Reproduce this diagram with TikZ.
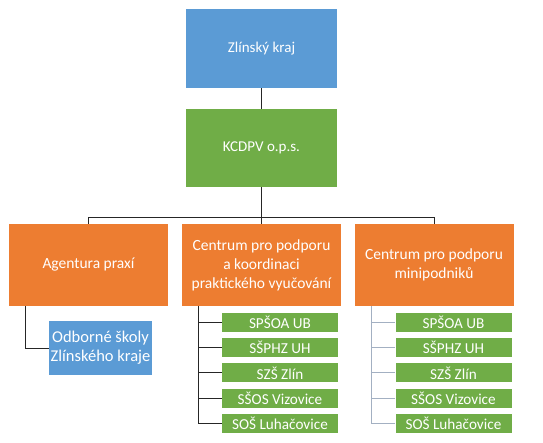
\documentclass[tikz,border=0pt]{standalone}
\usepackage{fontspec}
\setmainfont{Carlito}
\usepackage{xcolor}
\usepackage{tikz}
\usetikzlibrary{positioning,calc}

\definecolor{boxblue}{HTML}{5B9BD5}
\definecolor{boxgreen}{HTML}{70AD47}
\definecolor{boxorange}{HTML}{ED7D31}
\definecolor{linegrey}{HTML}{A3B0C2}

\tikzset{
	unit/.style={rectangle,draw=none,text=white,align=center,inner sep=0pt,
		font=\fontsize{15.5}{19}\selectfont},
	topbox/.style={unit,fill=boxblue,minimum width=151pt,minimum height=79pt,
		font=\fontsize{15}{19}\selectfont},
	opsbox/.style={unit,fill=boxgreen,minimum width=151pt,minimum height=78pt,
		font=\fontsize{15}{19}\selectfont},
	deptbox/.style={unit,fill=boxorange,minimum width=159pt,minimum height=82pt},
	schoolbox/.style={unit,fill=boxblue,minimum width=103pt,minimum height=54pt,
		font=\fontsize{16.5}{19}\selectfont},
	smallbox/.style={unit,fill=boxgreen,minimum width=116pt,minimum height=19pt,
		font=\fontsize{15.2}{16}\selectfont},
	link/.style={draw=black!85,line width=0.9pt},
	greylink/.style={draw=linegrey,line width=0.9pt}
}

\begin{document}
\begin{tikzpicture}[x=1pt,y=-1pt]
	\useasboundingbox (0,0) rectangle (543,442);
	% top of the tree
	\node[topbox] (kraj) at (261.5,48.5) {Zlínský kraj};
	\node[opsbox] (kcdpv) at (261.5,148) {KCDPV o.p.s.};
	\coordinate (bus) at (261.5,217);
	% departments
	\node[deptbox] (agentura) at (88.5,265) {Agentura praxí};
	\node[deptbox] (centrum) at (261.5,265) {Centrum pro podporu\\a koordinaci\\praktického vyučování};
	\node[deptbox] (mini) at (434,265) {Centrum pro podporu\\minipodniků};
	\node[schoolbox] (skoly) at (100.5,348) {Odborné školy\\Zlínského kraje};
	% links
	\draw[link] (kraj) -- (kcdpv);
	\draw[link] (kcdpv) -- (bus);
	\draw[link] (bus) -| (agentura.north);
	\draw[link] (bus) -- (centrum.north);
	\draw[link] (bus) -| (mini.north);
	\draw[link] ($(agentura.south west)+(17,0)$) coordinate (ag) |- (skoly.west);
	\coordinate (cs) at ($(centrum.south west)+(17,0)$);
	\coordinate (ms) at ($(mini.south west)+(17,0)$);
	% schools under both centres
	\foreach \name [count=\i] in {SPŠOA UB,SŠPHZ UH,SZŠ Zlín,SŠOS Vizovice,SOŠ Luhačovice} {
		\node[smallbox] (c\i) at (280,{322.5+25.2*(\i-1)}) {\name};
		\node[smallbox] (m\i) at (453.5,{322.5+25.2*(\i-1)}) {\name};
		\draw[link] (cs) |- (c\i.west);
		\draw[greylink] (ms) |- (m\i.west);
	}
\end{tikzpicture}
\end{document}
